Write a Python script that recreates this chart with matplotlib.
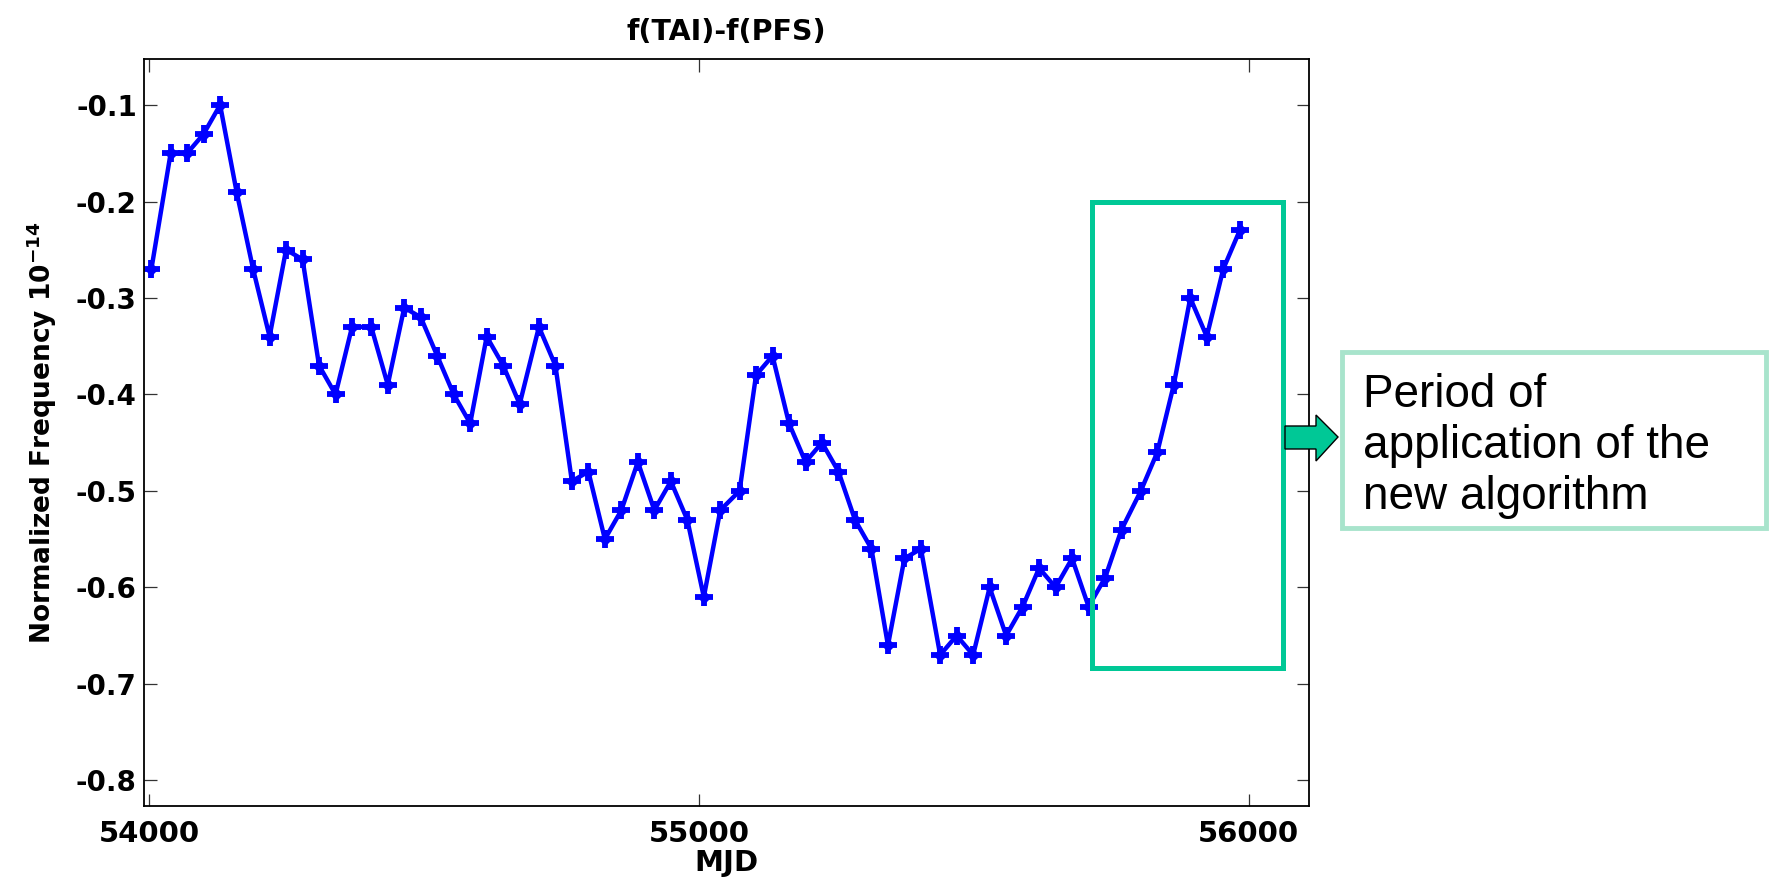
import matplotlib
matplotlib.use("Agg")
import matplotlib.pyplot as plt
from matplotlib.patches import Rectangle, Polygon

# ---- data (MJD, normalized frequency difference, units of 1e-14) ----
mjd = [54004, 54039, 54069, 54099, 54129, 54159, 54189, 54219, 54249, 54279,
       54309, 54339, 54369, 54404, 54434, 54464, 54494, 54524, 54554, 54584,
       54614, 54644, 54674, 54709, 54739, 54769, 54799, 54829, 54859, 54889,
       54919, 54949, 54979, 55009, 55039, 55074, 55104, 55134, 55164, 55194,
       55224, 55254, 55284, 55314, 55344, 55374, 55404, 55439, 55469, 55499,
       55529, 55559, 55589, 55619, 55649, 55679, 55709, 55739, 55769, 55804,
       55834, 55864, 55894, 55924, 55954, 55984]
freq = [-0.27, -0.15, -0.15, -0.13, -0.10, -0.19, -0.27, -0.34, -0.25, -0.26,
        -0.37, -0.40, -0.33, -0.33, -0.39, -0.31, -0.32, -0.36, -0.40, -0.43,
        -0.34, -0.37, -0.41, -0.33, -0.37, -0.49, -0.48, -0.55, -0.52, -0.47,
        -0.52, -0.49, -0.53, -0.61, -0.52, -0.50, -0.38, -0.36, -0.43, -0.47,
        -0.45, -0.48, -0.53, -0.56, -0.66, -0.57, -0.56, -0.67, -0.65, -0.67,
        -0.60, -0.65, -0.62, -0.58, -0.60, -0.57, -0.62, -0.59, -0.54, -0.50,
        -0.46, -0.39, -0.30, -0.34, -0.27, -0.23]

x_ticks = [54000, 55000, 56000]
y_ticks = [-0.8, -0.7, -0.6, -0.5, -0.4, -0.3, -0.2, -0.1]

# period highlighted by the green frame
period_mjd = (55716, 56062)
period_freq = (-0.684, -0.2)
note_text = "Period of\napplication of the\nnew algorithm"

# ---- figure ----
W, H = 1769, 881
fig = plt.figure(figsize=(W / 100, H / 100), dpi=100)
ax = fig.add_axes([143.7 / W, 1 - 806 / H, (1309 - 143.7) / W, (806 - 59.3) / H])

# thick plus markers drawn twice so they read as solid crosses
ax.plot(mjd, freq, color='#0000ff', linewidth=3.2, marker='+',
        markersize=13, markeredgewidth=4.2)
ax.plot(mjd, freq, linestyle='none', color='#0000ff', marker='D',
        markersize=6)

ax.set_xlim(53990, 56110)
ax.set_ylim(-0.8266, -0.0526)
ax.set_xticks(x_ticks)
ax.set_xticklabels([str(v) for v in x_ticks])
ax.set_yticks(y_ticks)
ax.set_yticklabels(['%.1f' % v for v in y_ticks])

for lab in ax.get_xticklabels():
    lab.set_fontsize(21)
    lab.set_fontweight('bold')
for lab in ax.get_yticklabels():
    lab.set_fontsize(20)
    lab.set_fontweight('bold')

ax.tick_params(direction='in', length=9, width=0.9, color='#333333',
               top=True, right=True)
ax.tick_params(axis='x', pad=10)
ax.tick_params(axis='y', pad=5)
for s in ax.spines.values():
    s.set_linewidth(1.3)
    s.set_color('black')

ax.set_title('f(TAI)-f(PFS)', fontsize=20.5, fontweight='bold', pad=14)
ax.set_xlabel('MJD', fontsize=21, fontweight='bold', labelpad=1)
ax.set_ylabel(r'Normalized Frequency 10$^{\mathbf{-14}}$', fontsize=19,
              fontweight='bold', labelpad=12)

# green frame around the new-algorithm period
ax.add_patch(Rectangle((period_mjd[0], period_freq[0]),
                       period_mjd[1] - period_mjd[0],
                       period_freq[1] - period_freq[0],
                       fill=False, edgecolor='#00c896', linewidth=3.6,
                       clip_on=False, zorder=3))

# block arrow pointing to the note
pts = [(1285, 426), (1316, 426), (1316, 415), (1338, 437),
       (1316, 461), (1316, 449), (1285, 449)]
fig.patches.append(Polygon([(x / W, 1 - y / H) for x, y in pts],
                           closed=True, facecolor='#00c896', edgecolor='black',
                           linewidth=1.0, transform=fig.transFigure))

# note box
fig.patches.append(Rectangle((1342 / W, 1 - 528 / H), (1766 - 1342) / W,
                             (528 - 352) / H, fill=False, edgecolor='#a8e4cc',
                             linewidth=3.5, transform=fig.transFigure))
fig.text(1363 / W, 1 - 373 / H, note_text, fontsize=33,
         family=['Liberation Sans', 'DejaVu Sans'], va='top', ha='left',
         linespacing=1.2)

fig.savefig('out.png', dpi=100)
